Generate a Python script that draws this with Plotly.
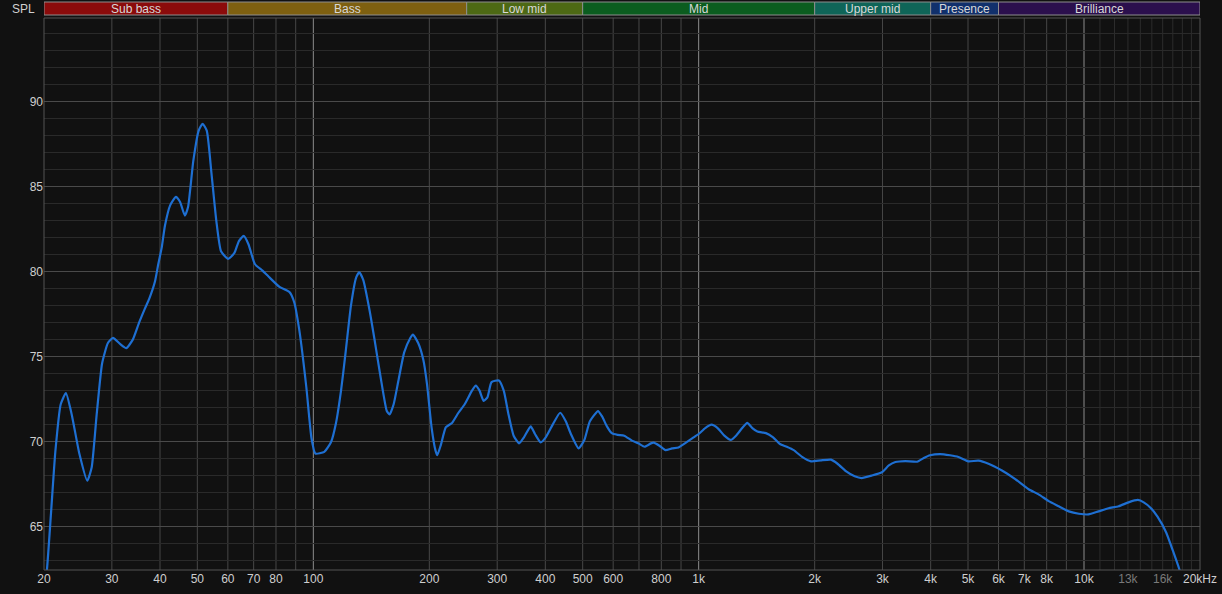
import math
import plotly.graph_objects as go

# ---- data ----
freq_hz = [20.0, 20.34, 20.87, 21.4, 22.1, 22.8, 23.6, 24.7, 25.9, 26.6, 27.4, 28.3, 29.3, 30.2,
           31.5, 32.7, 34.0, 35.3, 36.5, 37.5, 38.8, 39.6, 40.4, 41.2, 42.5, 44.0, 45.1, 46.4,
           47.3, 48.8, 50.4, 51.6, 52.9, 54.4, 56.0, 57.6, 60.1, 62.4, 64.1, 66.0, 67.9, 70.5,
           73.8, 76.6, 81.7, 86.7, 89.2, 91.9, 95.9, 98.9, 101.2, 106.8, 111.1, 114.5, 118.0,
           121.2, 125.2, 129.2, 131.6, 134.8, 140.0, 144.4, 149.7, 155.1, 157.7, 161.6, 166.3,
           172.1, 178.5, 181.3, 187.1, 193.0, 197.2, 202.8, 207.4, 209.7, 214.2, 220.8, 229,
           238, 247, 258, 264, 270, 276.6, 283, 290, 303, 312, 321, 331, 342, 352, 366.5, 376,
           389, 401, 418, 437, 452, 466, 488, 505, 522, 548, 561, 578, 595, 616, 641, 671, 697,
           724, 752, 764, 791, 820, 853, 887, 921, 970, 1000, 1040, 1080, 1120, 1166, 1211,
           1250, 1297, 1337, 1378, 1420, 1495, 1560, 1625, 1693, 1765, 1855, 1956, 2076, 2205,
           2293, 2415, 2540, 2648, 2810, 2990, 3115, 3240, 3440, 3690, 3840, 3985, 4232, 4490,
           4720, 5010, 5320, 5650, 6125, 6630, 7185, 7625, 8100, 8600, 9130, 9700, 10270,
           10910, 11580, 12300, 13050, 13800, 14290, 14900, 15500, 16340, 17000, 17700, 18300]
spl_db = [61.3, 62.4, 65.9, 69.4, 72.2, 72.85, 71.6, 69.3, 67.7, 68.5, 71.6, 74.6, 75.8, 76.1,
          75.75, 75.5, 76.0, 77.0, 77.8, 78.4, 79.4, 80.45, 81.4, 82.7, 83.9, 84.4, 84.1, 83.3,
          83.8, 86.5, 88.3, 88.7, 88.3, 85.8, 83.0, 81.2, 80.75, 81.1, 81.8, 82.1, 81.6, 80.45,
          80.06, 79.7, 79.1, 78.8, 78.2, 76.6, 73.2, 70.2, 69.3, 69.4, 69.96, 71.1, 73.0,
          75.2, 78.0, 79.66, 79.96, 79.5, 77.7, 75.9, 73.7, 71.8, 71.6, 72.2, 73.6,
          75.25, 76.1, 76.3, 75.8, 74.8, 73.4, 70.8, 69.5, 69.2, 69.8, 70.85, 71.1,
          71.7, 72.2, 73.0, 73.3, 73.0, 72.4, 72.6, 73.5, 73.6, 73.0, 71.6, 70.35, 69.9, 70.25, 70.9, 70.45,
          69.96, 70.25, 71.0, 71.7, 71.2, 70.45, 69.6, 70.1, 71.2, 71.8, 71.5, 70.9, 70.5, 70.4, 70.35, 70.06, 69.9,
          69.7, 69.9, 69.94, 69.76, 69.5, 69.6, 69.66, 69.9, 70.25, 70.45, 70.8, 71.0, 70.8, 70.35, 70.1,
          70.35, 70.8, 71.1, 70.8, 70.6, 70.5, 70.25, 69.86, 69.7, 69.5, 69.1, 68.84, 68.9, 68.94,
          68.7, 68.25, 67.96, 67.86, 68.0, 68.2, 68.6, 68.8, 68.86, 68.82, 69.04, 69.2, 69.27, 69.2,
          69.1, 68.84, 68.88, 68.7, 68.3, 67.8, 67.2, 66.9, 66.5, 66.2, 65.9, 65.76, 65.72,
          65.9, 66.08, 66.2, 66.43, 66.57, 66.43, 66.1, 65.6, 64.66, 63.6, 62.45, 61.3]

band_names = ["Sub bass", "Bass", "Low mid", "Mid", "Upper mid", "Presence", "Brilliance"]
band_lo = [20, 60, 250, 500, 2000, 4000, 6000]
band_hi = [60, 250, 500, 2000, 4000, 6000, 20000]
band_colors = ["#8b0b0b", "#7e6010", "#4d6914", "#0b5d1f", "#0f6558", "#11306c", "#2b0f4d"]

x_tick_vals = [20, 30, 40, 50, 60, 70, 80, 100, 200, 300, 400, 500, 600, 800, 1000, 2000,
               3000, 4000, 5000, 6000, 7000, 8000, 10000, 13000, 16000, 20000]
x_tick_text = ["20", "30", "40", "50", "60", "70", "80", "100", "200", "300", "400", "500",
               "600", "800", "1k", "2k", "3k", "4k", "5k", "6k", "7k", "8k", "10k",
               "<span style='color:#7a7a7a'>13k</span>", "<span style='color:#7a7a7a'>16k</span>", "20kHz"]
y_tick_vals = [65, 70, 75, 80, 85, 90]

grid_mid = [30, 40, 50, 60, 70, 80, 90, 200, 300, 400, 500, 600, 700, 800, 900,
            2000, 3000, 4000, 5000, 6000, 7000, 8000, 9000]
grid_dim = [11000, 12000, 13000, 14000, 15000, 16000, 17000, 18000, 19000]
grid_decade = [100, 1000, 10000]

BG = "#111111"
FONT = "Liberation Sans"

fig = go.Figure()
fig.add_trace(go.Scatter(x=freq_hz, y=spl_db, mode="lines",
                         line=dict(color="#1e6fd2", width=2.2, shape="spline", smoothing=0.5),
                         hoverinfo="skip", showlegend=False))

shapes = []
for g in grid_dim:
    shapes.append(dict(type="line", xref="x", yref="paper", x0=g, x1=g, y0=0, y1=1,
                       line=dict(color="#2c2c2c", width=1), layer="below"))
for g in grid_mid:
    shapes.append(dict(type="line", xref="x", yref="paper", x0=g, x1=g, y0=0, y1=1,
                       line=dict(color="#474747", width=1), layer="below"))
for g in grid_decade:
    shapes.append(dict(type="line", xref="x", yref="paper", x0=g, x1=g, y0=0, y1=1,
                       line=dict(color="#8c8c8c", width=1), layer="below"))
# frame
shapes.append(dict(type="rect", xref="paper", yref="paper", x0=0, x1=1, y0=0, y1=1,
                   line=dict(color="#555555", width=1), layer="above"))

H = 552.0
by0 = 1 + 3.0 / H
by1 = 1 + 16.0 / H
annotations = []
for name, lo, hi, col in zip(band_names, band_lo, band_hi, band_colors):
    shapes.append(dict(type="rect", xref="x", yref="paper", x0=lo, x1=hi, y0=by0, y1=by1,
                       fillcolor=col, line=dict(color="#8f8f8f", width=1), layer="above"))
    annotations.append(dict(xref="x", yref="paper", x=math.log10(math.sqrt(lo * hi)),
                            y=(by0 + by1) / 2, text=name, showarrow=False,
                            font=dict(family=FONT, size=12, color="#d8d8d8"),
                            xanchor="center", yanchor="middle"))
annotations.append(dict(xref="paper", yref="paper", x=0, xshift=-7, y=(by0 + by1) / 2,
                        text="SPL", showarrow=False, xanchor="right", yanchor="middle",
                        font=dict(family=FONT, size=12, color="#d0d0d0")))

fig.update_layout(
    width=1222, height=594,
    margin=dict(l=44, r=22, t=18, b=24, autoexpand=False),
    paper_bgcolor=BG, plot_bgcolor=BG,
    shapes=shapes, annotations=annotations,
    font=dict(family=FONT, size=12, color="#cfcfcf"),
    xaxis=dict(type="log", range=[math.log10(20), math.log10(20000)], automargin=False,
               tickvals=x_tick_vals, ticktext=x_tick_text, showgrid=False, zeroline=False,
               ticks="", showline=False, tickfont=dict(family=FONT, size=12, color="#cfcfcf")),
    yaxis=dict(range=[62.45, 94.92], tickvals=y_tick_vals, showgrid=True, automargin=False,
               gridcolor="#4a4a4a", gridwidth=1, zeroline=False, ticks="", showline=False,
               tickfont=dict(family=FONT, size=12, color="#cfcfcf"),
               minor=dict(dtick=1, tick0=0, showgrid=True, gridcolor="#2a2a2a", gridwidth=1)),
)

fig.write_html("out.html", config={"displayModeBar": False},
               post_script="document.body.style.margin='0';document.body.style.background='#111111';document.body.style.overflow='hidden';")
